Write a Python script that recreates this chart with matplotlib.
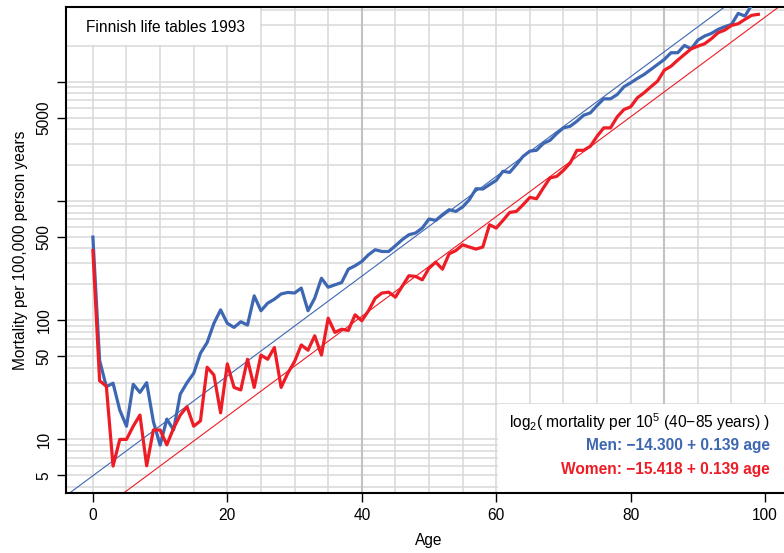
import numpy as np
import matplotlib
matplotlib.use("Agg")
import matplotlib.pyplot as plt
from matplotlib.patches import Rectangle

plt.rcParams['font.family'] = ['Liberation Sans', 'DejaVu Sans']
plt.rcParams['mathtext.fontset'] = 'custom'
plt.rcParams['mathtext.rm'] = 'Liberation Sans'
plt.rcParams['mathtext.default'] = 'regular'

# Données : mortalité pour 100 000 personnes-années, âges 0-99
ages = np.arange(0, 100)
men = [498, 46, 27.7, 29.6, 17.6, 12.9, 29, 24.8, 29.9, 14.1,
       8.95, 14.8, 12, 24, 29.9, 35.9, 52.8, 65, 94, 122,
       94, 87, 97, 91, 160, 120, 139, 150, 166, 171,
       169, 186, 120, 153, 225, 189, 198, 207, 268, 286,
       311, 354, 390, 377, 377, 421, 473, 521, 539, 593,
       706, 687, 767, 845, 818, 891, 1026, 1268, 1260, 1371,
       1490, 1774, 1738, 2018, 2370, 2620, 2663, 3034, 3230, 3678,
       4105, 4236, 4667, 5240, 5485, 6320, 7200, 7200, 7820, 9080,
       9810, 10670, 11520, 12680, 13970, 15390, 17530, 17530, 20180, 18920,
       22380, 24190, 25450, 27500, 28980, 30290, 37500, 35570, 44000, 52000]
women = [384, 31, 28, 5.97, 10, 10, 12.9, 16, 6, 12,
         12, 9, 12.4, 16, 18.8, 12.9, 14.3, 40.3, 34.7, 16.7,
         43, 27.3, 26, 47, 27.3, 51, 47, 59, 27.3, 36,
         45, 62, 56, 74, 51, 104, 79, 84, 82, 111,
         99, 120, 153, 169, 172, 156, 192, 236, 233, 218,
         273, 307, 268, 361, 384, 429, 411, 395, 411, 632,
         593, 687, 802, 818, 931, 1072, 1045, 1285, 1560, 1610,
         1808, 2083, 2663, 2663, 2878, 3493, 4105, 4105, 5082, 5850,
         6166, 7345, 8090, 9080, 10120, 12500, 13500, 15200, 16950, 18900,
         19900, 20850, 22950, 25800, 27150, 29700, 30700, 33400, 36100, 36800]

# Ajustement log2 (40-85 ans)
slope = 0.139
a_men = -14.300
a_women = -15.418

col_men = "#3d67b3"
col_women = "#ee1c25"

yticks = [5, 10, 50, 100, 500, 1000, 5000, 10000]
ylabels = ["5", "10", "50", "100", "500", "", "5000", ""]

fs = 11.2

fig = plt.figure(figsize=(7.84, 5.53), dpi=100)
ax = fig.add_axes([66/784, 59.7/553, 726/784, 486.4/553])
ax.set_yscale("log")
ax.set_xlim(-4, 104)
ax.set_ylim(5 / (30000/5)**0.04, 30000 * (30000/5)**0.04)

# Grille
for d in [1, 10, 100, 1000, 10000]:
    for k in range(1, 10):
        ax.axhline(k*d, color="#d8d8d8", lw=1.1, zorder=0)
for x in range(0, 101, 5):
    ax.axvline(x, color="#d8d8d8", lw=1.1, zorder=0)
for x in [40, 85]:
    ax.axvline(x, color="#c2c2c2", lw=1.5, zorder=0.1)

# Cadres blancs
ax.add_patch(Rectangle((-10, 20300), 34.8, 1e6, facecolor="white", edgecolor="none", zorder=0.5))
ax.add_patch(Rectangle((60.2, 0.1), 60, 19.7, facecolor="white", edgecolor="none", zorder=0.5))

# Droites ajustées
xx = np.linspace(-5, 105, 200)
ax.plot(xx, 1e5 * 2**(a_men + slope*xx), color=col_men, lw=0.8, zorder=2)
ax.plot(xx, 1e5 * 2**(a_women + slope*xx), color=col_women, lw=0.8, zorder=2)

# Courbes
ax.plot(ages, men, color=col_men, lw=2.3, zorder=3)
ax.plot(ages, women, color=col_women, lw=2.3, zorder=3)

ax.set_xticks([0, 20, 40, 60, 80, 100])
ax.set_yticks(yticks)
ax.set_yticklabels(ylabels)
ax.minorticks_off()
ax.tick_params(axis="both", length=6.5, width=1, labelsize=fs, pad=4)
for lab in ax.get_yticklabels():
    lab.set_rotation(90)
    lab.set_va("center")

for s in ["left", "bottom", "top"]:
    ax.spines[s].set_linewidth(1.5)
ax.spines["right"].set_visible(False)

ax.set_xlabel("Age", fontsize=fs, labelpad=7)
ax.set_ylabel("Mortality per 100,000 person years", fontsize=fs, labelpad=6)

ax.text(-1.0, 28500, "Finnish life tables 1993", fontsize=fs, ha="left", va="center")
ax.text(100.7, 13.9, "log$_2$( mortality per 10$^5$ (40\u221285 years) )",
        fontsize=fs, ha="right", va="center")
ax.text(100.7, 8.83, "Men: \u221214.300 + 0.139 age", fontsize=fs,
        fontweight="bold", color=col_men, ha="right", va="center")
ax.text(100.7, 5.6, "Women: \u221215.418 + 0.139 age", fontsize=fs,
        fontweight="bold", color=col_women, ha="right", va="center")

fig.savefig("out.png", dpi=100)
